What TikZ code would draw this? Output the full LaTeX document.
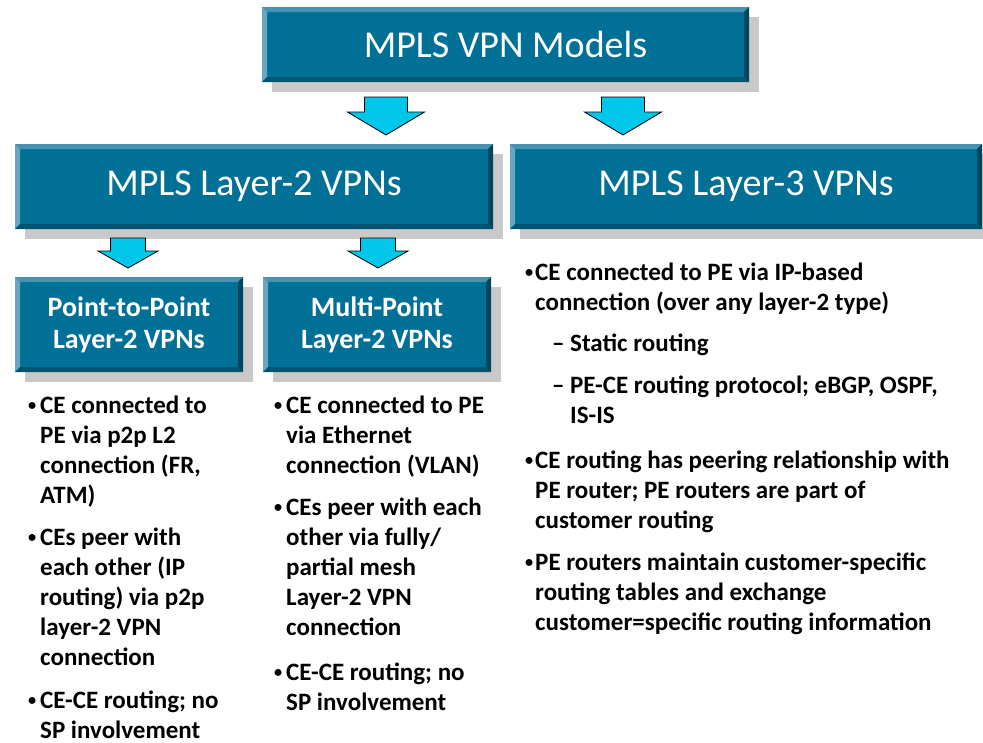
\documentclass[tikz,border=0pt]{standalone}
\usepackage{fontspec}
\setmainfont{Carlito}
\usetikzlibrary{shadows,calc}
\definecolor{boxmain}{RGB}{0,112,150}
\definecolor{bevtop}{RGB}{72,146,178}
\definecolor{bevleft}{RGB}{104,166,194}
\definecolor{bevright}{RGB}{0,70,96}
\definecolor{bevbottom}{RGB}{0,86,114}
\definecolor{shadowgray}{RGB}{201,201,201}
\definecolor{arrowcyan}{RGB}{0,198,234}
\tikzset{
  bevelbox/.style={rectangle, inner sep=0pt, fill=boxmain, text=white, align=center,
    general shadow={fill=shadowgray, shadow xshift=10pt, shadow yshift=-10pt},
    path picture={
      \coordinate (pNW) at (path picture bounding box.north west);
      \coordinate (pNE) at (path picture bounding box.north east);
      \coordinate (pSW) at (path picture bounding box.south west);
      \coordinate (pSE) at (path picture bounding box.south east);
      \fill[bevtop] (pNW) -- (pNE) -- ([xshift=-5pt,yshift=-5pt]pNE) -- ([xshift=5pt,yshift=-5pt]pNW) -- cycle;
      \fill[bevleft] (pNW) -- ([xshift=5pt,yshift=-5pt]pNW) -- ([xshift=5pt,yshift=5pt]pSW) -- (pSW) -- cycle;
      \fill[bevright] (pNE) -- (pSE) -- ([xshift=-5pt,yshift=5pt]pSE) -- ([xshift=-5pt,yshift=-5pt]pNE) -- cycle;
      \fill[bevbottom] (pSW) -- ([xshift=5pt,yshift=5pt]pSW) -- ([xshift=-5pt,yshift=5pt]pSE) -- (pSE) -- cycle;
    }},
  bigtitle/.style={bevelbox, font=\fontsize{38}{44}\selectfont},
  subtitle/.style={bevelbox, font=\bfseries\fontsize{28}{32}\selectfont},
  itemtext/.style={anchor=base west, inner sep=0pt, font=\bfseries\fontsize{25}{30}\selectfont},
  blockarrow/.style={fill=arrowcyan, draw=black, line width=0.8pt, line join=miter}
}
\newcommand{\blockarr}[6]{% coordinate, stem half, head half, stem len, head len
  \draw[blockarrow] ($(#1)+(-#2,0)$) -- ++(0,#4) -- ($(#1)+(-#3,#4)$) -- ($(#1)+(0,#4+#5)$)
    -- ($(#1)+(#3,#4)$) -- ($(#1)+(#2,#4)$) -- ($(#1)+(#2,0)$) -- cycle;}
\newcommand{\bul}[1]{\makebox[#1][l]{\raisebox{3pt}{\scalebox{0.65}{\textbullet}}}}
\newcommand{\subdash}{\makebox[18pt][l]{\textendash}}
\begin{document}
\begin{tikzpicture}[x=1pt,y=-1pt]
\useasboundingbox (0,0) rectangle (983,742);

% boxes
\node[bigtitle, minimum width=487pt, minimum height=75pt] (top) at (505.5,44.5) {MPLS VPN Models};
\node[bigtitle, minimum width=478pt, minimum height=85pt] (l2) at (254,186.5) {MPLS Layer-2 VPNs};
\node[bigtitle, minimum width=472pt, minimum height=85pt] (l3) at (746,186.5) {MPLS Layer-3 VPNs};
\node[subtitle, minimum width=228pt, minimum height=95pt] (p2p) at (129,324.5) {Point-to-Point\\Layer-2 VPNs};
\node[subtitle, minimum width=228pt, minimum height=95pt] (mp) at (377,324.5) {Multi-Point\\Layer-2 VPNs};

% arrows
\coordinate (a1) at (386,97);
\coordinate (a2) at (623,97);
\coordinate (a3) at (128,238);
\coordinate (a4) at (378,238);
\blockarr{a1}{21.5}{38.5}{15}{23}{}
\blockarr{a2}{21.5}{38.5}{15}{23}{}
\blockarr{a3}{17.5}{30}{13}{17}{}
\blockarr{a4}{17.5}{30}{13}{17}{}

% left column
\node[itemtext] (t1a) at (28,413) {\begin{tabular}[t]{@{}l@{}l@{}}\bul{12pt}&CE connected to\\&PE via p2p L2\\&connection (FR,\\&ATM)\end{tabular}};
\node[itemtext] (t1b) at (28,545) {\begin{tabular}[t]{@{}l@{}l@{}}\bul{12pt}&CEs peer with\\&each other (IP\\&routing) via p2p\\&layer-2 VPN\\&connection\end{tabular}};
\node[itemtext] (t1c) at (28,708) {\begin{tabular}[t]{@{}l@{}l@{}}\bul{12pt}&CE-CE routing; no\\&SP involvement\end{tabular}};

% middle column
\node[itemtext] (t2a) at (274,413) {\begin{tabular}[t]{@{}l@{}l@{}}\bul{12pt}&CE connected to PE\\&via Ethernet\\&connection (VLAN)\end{tabular}};
\node[itemtext] (t2b) at (274,515) {\begin{tabular}[t]{@{}l@{}l@{}}\bul{12pt}&CEs peer with each\\&other via fully/\\&partial mesh\\&Layer-2 VPN\\&connection\end{tabular}};
\node[itemtext] (t2c) at (274,680) {\begin{tabular}[t]{@{}l@{}l@{}}\bul{12pt}&CE-CE routing; no\\&SP involvement\end{tabular}};

% right column
\node[itemtext] (t3a) at (525,280) {\begin{tabular}[t]{@{}l@{}l@{}}\bul{10pt}&CE connected to PE via IP-based\\&connection (over any layer-2 type)\end{tabular}};
\node[itemtext] (t3b) at (552,351) {\begin{tabular}[t]{@{}l@{}l@{}}\subdash&Static routing\end{tabular}};
\node[itemtext] (t3c) at (552,393) {\begin{tabular}[t]{@{}l@{}l@{}}\subdash&PE-CE routing protocol; eBGP, OSPF,\\&IS-IS\end{tabular}};
\node[itemtext] (t3d) at (525,468) {\begin{tabular}[t]{@{}l@{}l@{}}\bul{10pt}&CE routing has peering relationship with\\&PE router; PE routers are part of\\&customer routing\end{tabular}};
\node[itemtext] (t3e) at (525,570) {\begin{tabular}[t]{@{}l@{}l@{}}\bul{10pt}&PE routers maintain customer-specific\\&routing tables and exchange\\&customer=specific routing information\end{tabular}};
\end{tikzpicture}
\end{document}
